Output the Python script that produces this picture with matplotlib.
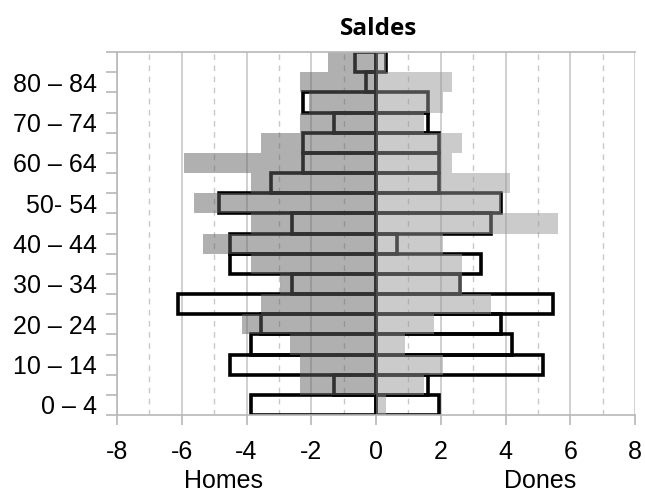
import matplotlib
matplotlib.use("Agg")
import matplotlib.pyplot as plt
import numpy as np

# Age groups (bottom to top)
categories = ["0 – 4", "5 – 9", "10 – 14", "15 – 19", "20 – 24", "25 – 29",
              "30 – 34", "35 – 39", "40 – 44", "45 – 49", "50- 54", "55 – 59",
              "60 – 64", "65 – 69", "70 – 74", "75 – 79", "80 – 84", "85+"]

# Outlined (white) bars, % of population
men_outline = [-3.87, -1.29, -4.52, -3.87, -3.55, -6.13, -2.58, -4.52, -4.52,
               -2.58, -4.84, -3.23, -2.26, -2.26, -1.29, -2.26, -0.32, -0.65]
women_outline = [1.94, 1.61, 5.16, 4.19, 3.87, 5.48, 2.58, 3.23, 0.65,
                 3.55, 3.87, 1.94, 1.94, 1.94, 1.61, 1.61, 0.0, 0.32]

# Gray bars, % of population
men_gray = [0.0, -2.36, -2.36, -2.66, -4.14, -3.55, -2.96, -3.85, -5.33,
            -3.85, -5.62, -3.85, -5.92, -3.55, -2.36, -2.07, -2.36, -1.48]
women_gray = [0.30, 1.48, 2.07, 0.89, 1.78, 3.55, 2.66, 2.66, 2.07,
              5.62, 3.85, 4.14, 2.36, 2.66, 1.48, 2.07, 2.36, 0.30]

xticks = [-8, -6, -4, -2, 0, 2, 4, 6, 8]

plt.rcParams['font.family'] = ['Liberation Sans', 'DejaVu Sans']

fig = plt.figure(figsize=(6.45, 4.92), dpi=100)
ax = fig.add_axes([117/645, 1 - 415/492, (635 - 117)/645, (415 - 52)/492])

y = np.arange(len(categories))

# grid
for v in range(-7, 8, 2):
    ax.axvline(v, color='#c8c8c8', lw=1.0, ls=(0, (4, 4)), zorder=0)
for v in xticks:
    ax.axvline(v, color='#d0d0d0', lw=1.4, zorder=0)

ax.barh(y, men_outline, height=1.0, facecolor='none', edgecolor='black',
        linewidth=2.6, zorder=1)
ax.barh(y, women_outline, height=1.0, facecolor='none', edgecolor='black',
        linewidth=2.6, zorder=1)
ax.barh(y, men_gray, height=1.0, color='#626262', alpha=0.5, linewidth=0, zorder=2)
ax.barh(y, women_gray, height=1.0, color='#999999', alpha=0.5, linewidth=0, zorder=2)

ax.set_xlim(-8, 8)
ax.set_ylim(-0.5, len(categories) - 0.5)
ax.set_xticks(xticks)
ax.set_xticklabels([str(t) for t in xticks], fontsize=18)
ax.tick_params(axis='x', direction='out', length=7.5, width=1.2, color='#b8b8b8', pad=10.5)

ax.set_yticks(y[::2])
ax.set_yticklabels(categories[::2], fontsize=18)
ax.set_yticks(np.arange(-0.5, len(categories)), minor=True)
ax.tick_params(axis='y', which='major', length=0, pad=14.5)
ax.tick_params(axis='y', which='minor', direction='out', length=8, width=1.2, color='#b8b8b8')

for s in ['left', 'bottom', 'top']:
    ax.spines[s].set_color('#b8b8b8')
    ax.spines[s].set_linewidth(1.2)
ax.spines['right'].set_visible(False)

fig.text(379/645, 1 - 35/492, "Saldes", ha='center', va='baseline',
         fontsize=17.5, fontweight='bold', family=['Open Sans', 'DejaVu Sans'])
fig.text(223/645, 1 - 488/492, "Homes", ha='center', va='baseline', fontsize=18)
fig.text(540/645, 1 - 488/492, "Dones", ha='center', va='baseline', fontsize=18)

fig.savefig("out.png", dpi=100)
